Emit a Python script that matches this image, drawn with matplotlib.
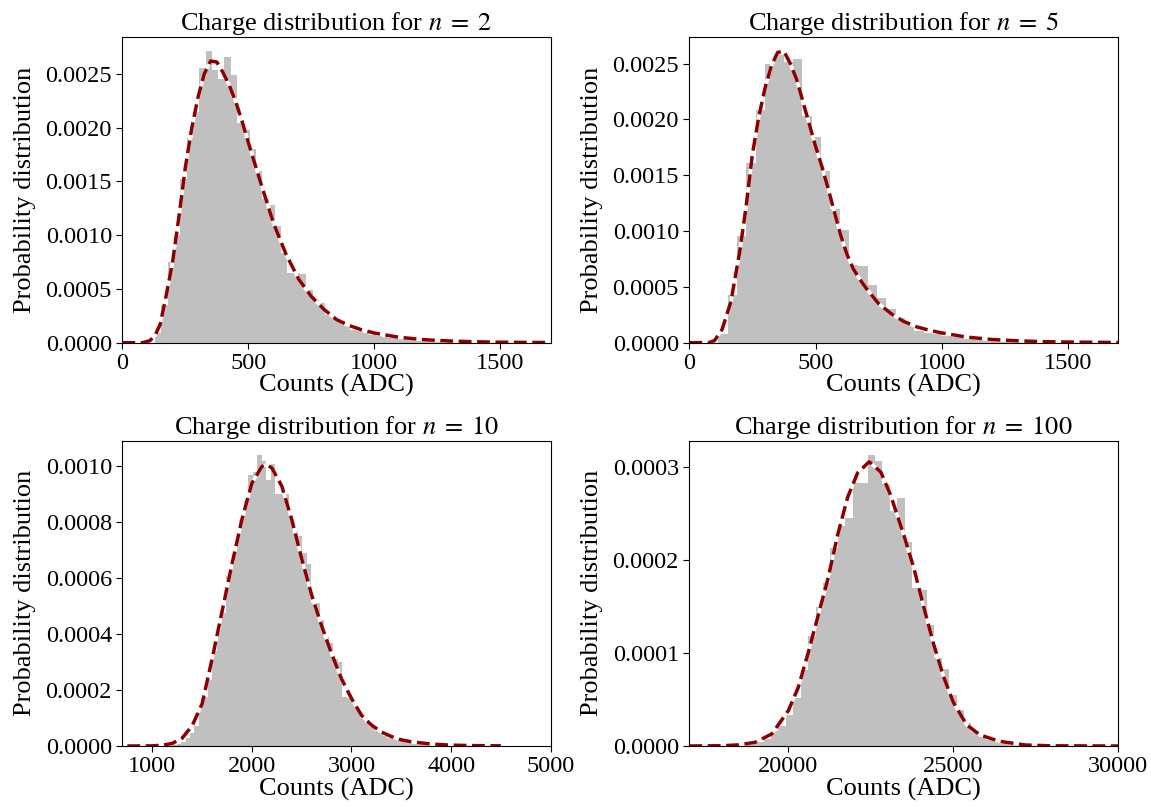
import numpy as np
import matplotlib
matplotlib.use("Agg")
import matplotlib.pyplot as plt
from matplotlib.ticker import MultipleLocator

plt.rcParams['font.family'] = ['Liberation Serif', 'DejaVu Serif']
plt.rcParams['mathtext.fontset'] = 'stix'

# ---- n = 2 ----
n2_start, n2_width = 130, 25
n2_heights = [0.00009, 0.00035, 0.00075, 0.00100, 0.00152, 0.00190, 0.00215, 0.00255,
              0.00271, 0.00254, 0.00245, 0.00266, 0.00249, 0.00204, 0.00198, 0.00180,
              0.00160, 0.00134, 0.00128, 0.00109, 0.00083, 0.00065, 0.00065, 0.00064,
              0.00049, 0.00040, 0.00037, 0.00026, 0.00023, 0.00019, 0.00016, 0.00012,
              0.00011, 0.000093, 0.000071, 0.000062, 0.000053, 0.000046, 0.00004, 0.000034,
              0.00003, 0.000025, 0.00002, 0.000017, 0.000014, 0.000011, 0.000009, 0.000008,
              0.000006, 0.000005, 0.000004, 0.000003, 0.000003, 0.000002, 0.000002, 0.000001]
n2_fit_x = [0, 80, 110, 130, 150, 175, 200, 225, 250, 275, 300, 325, 350, 375, 400, 425,
            450, 475, 500, 525, 550, 600, 650, 700, 750, 800, 850, 900, 950, 1000, 1100,
            1200, 1300, 1400, 1500, 1600, 1700]
n2_fit_y = [0, 0, 0.00002, 0.00007, 0.00017, 0.00045, 0.00076, 0.00118, 0.00163, 0.00199,
            0.00228, 0.00250, 0.00262, 0.00261, 0.00251, 0.00239, 0.00224, 0.00206, 0.00186,
            0.00167, 0.00148, 0.00111, 0.00082, 0.00059, 0.00043, 0.00031, 0.000215, 0.00016,
            0.00012, 0.00009, 0.00005, 0.000028, 0.000016, 0.000009, 0.000005, 0.000003, 0.000002]

# ---- n = 5 ----
n5_start, n5_width = 115, 37
n5_heights = [0.00008, 0.00043, 0.00096, 0.00161, 0.00208, 0.00250, 0.00258, 0.00251,
              0.00254, 0.00203, 0.00184, 0.00154, 0.00120, 0.00101, 0.00070, 0.00069,
              0.00052, 0.00040, 0.00030, 0.00022, 0.000164, 0.000107, 0.00009, 0.000075,
              0.00006, 0.00005, 0.00004, 0.000032, 0.000026, 0.00002, 0.000016, 0.000013,
              0.00001, 0.000008, 0.000006, 0.000005, 0.000004, 0.000003, 0.000002, 0.000002,
              0.000001]
n5_fit_x = [0, 80, 100, 130, 165, 200, 225, 250, 275, 300, 325, 350, 375, 400, 425, 450,
            475, 500, 525, 550, 575, 600, 625, 650, 675, 700, 750, 800, 850, 900, 950, 1000,
            1100, 1200, 1300, 1400, 1500, 1600, 1700]
n5_fit_y = [0, 0.000002, 0.00002, 0.00012, 0.00037, 0.00082, 0.00122, 0.00169, 0.00202,
            0.00228, 0.00248, 0.00260, 0.00261, 0.00250, 0.00236, 0.00216, 0.00196, 0.00176,
            0.00158, 0.00138, 0.00117, 0.00096, 0.00079, 0.00066, 0.00057, 0.00049, 0.00035,
            0.00026, 0.00019, 0.000143, 0.000112, 0.000088, 0.00005, 0.000029, 0.000017,
            0.00001, 0.000006, 0.000004, 0.000002]

# ---- n = 10 ----
n10_start, n10_width = 1199, 45
n10_heights = [0.000002, 0.000007, 0.000016, 0.00003, 0.000048, 0.00007, 0.000135, 0.000177,
               0.000236, 0.000338, 0.000415, 0.000475, 0.000608, 0.000654, 0.000737, 0.00081,
               0.000875, 0.00097, 0.00098, 0.00104, 0.00102, 0.00095, 0.00101, 0.00090,
               0.00090, 0.00090, 0.00082, 0.00077, 0.00075, 0.00069, 0.00065, 0.00051,
               0.00051, 0.00045, 0.00039, 0.00037, 0.00031, 0.00030, 0.000177, 0.00017,
               0.000158, 0.000129, 0.0001, 0.000081, 0.000069, 0.000055, 0.000045, 0.000037,
               0.00003, 0.000025, 0.000021, 0.000018, 0.000015, 0.000013, 0.000011, 0.000009,
               0.000008, 0.000007, 0.000006, 0.000005, 0.000004, 0.000004, 0.000003, 0.000003,
               0.000002, 0.000002, 0.000002, 0.000001, 0.000001, 0.000001, 0.000001, 0.000001]
n10_fit_x = [750, 1000, 1100, 1200, 1300, 1400, 1500, 1600, 1700, 1800, 1900, 2000, 2100,
             2150, 2200, 2300, 2400, 2500, 2600, 2700, 2800, 2900, 3000, 3100, 3200, 3300,
             3400, 3500, 3600, 3800, 4000, 4200, 4500]
n10_fit_y = [0, 0.0000005, 0.000003, 0.000009, 0.000028, 0.000072, 0.00015, 0.00031, 0.00048,
             0.00065, 0.00081, 0.00094, 0.00100, 0.001006, 0.000995, 0.00093, 0.00081, 0.00067,
             0.00054, 0.00043, 0.00033, 0.00024, 0.00017, 0.00011, 0.000075, 0.00005, 0.000034,
             0.000022, 0.000015, 0.000007, 0.000003, 0.0000015, 0.0000005]

# ---- n = 100 ----
n100_start, n100_width = 18350, 225
n100_heights = [0.0000005, 0.000001, 0.0000022, 0.000004, 0.000008, 0.000016, 0.000022,
                0.000033, 0.000052, 0.000082, 0.000118, 0.00015, 0.000175, 0.000213, 0.000237,
                0.000245, 0.000283, 0.000283, 0.000313, 0.000307, 0.000282, 0.000253, 0.000267,
                0.00022, 0.00017, 0.000168, 0.00013, 0.000095, 0.000083, 0.000055, 0.000039,
                0.0000245, 0.0000155, 0.00001, 0.000006, 0.000004, 0.0000025, 0.0000015, 0.000001]
n100_fit_x = [17000, 18000, 18500, 19000, 19500, 20000, 20300, 20600, 20900, 21200, 21500,
              21800, 22100, 22450, 22800, 23100, 23500, 23800, 24100, 24400, 24700, 25000,
              25400, 25800, 26400, 27200, 28000, 30000]
n100_fit_y = [0, 0.0000003, 0.0000012, 0.000004, 0.000013, 0.000038, 0.000063, 0.0001,
              0.00014, 0.00018, 0.000228, 0.000268, 0.000294, 0.000306, 0.000295, 0.00027,
              0.000227, 0.000192, 0.00015, 0.00011, 0.000075, 0.000047, 0.000023, 0.000012,
              0.000005, 0.000001, 0.0000002, 0]

panels = [
    (2, n2_start, n2_width, n2_heights, n2_fit_x, n2_fit_y, (0, 1700), 500, 0.0005),
    (5, n5_start, n5_width, n5_heights, n5_fit_x, n5_fit_y, (0, 1700), 500, 0.0005),
    (10, n10_start, n10_width, n10_heights, n10_fit_x, n10_fit_y, (700, 5000), 1000, 0.0002),
    (100, n100_start, n100_width, n100_heights, n100_fit_x, n100_fit_y, (17000, 30000), 5000, 0.0001),
]

rects = [
    [0.1063, 0.5753, 0.3722, 0.3792],
    [0.5989, 0.5753, 0.3727, 0.3792],
    [0.1063, 0.0756, 0.3722, 0.3783],
    [0.5989, 0.0756, 0.3727, 0.3783],
]

fig = plt.figure(figsize=(11.51, 8.07), dpi=100)

for rect, (n, start, width, heights, fx, fy, xlim, xstep, ystep) in zip(rects, panels):
    ax = fig.add_axes(rect)
    edges = start + width * np.arange(len(heights) + 1)
    ax.stairs(heights, edges, fill=True, color='silver', linewidth=0)
    # white underlay so the gaps of the dashed fit show white
    ax.plot(fx, fy, color='white', lw=2.5)
    ax.plot(fx, fy, '--', color='darkred', lw=2.5)
    ax.set_xlim(*xlim)
    ax.set_ylim(bottom=0)
    ax.xaxis.set_major_locator(MultipleLocator(xstep))
    ax.yaxis.set_major_locator(MultipleLocator(ystep))
    ax.yaxis.set_major_formatter(plt.FormatStrFormatter('%.4f'))
    ax.tick_params(labelsize=17.5, length=4)
    ax.set_title(r'Charge distribution for $n\;=\;%d$' % n, fontsize=19, pad=2)
    ax.set_xlabel('Counts (ADC)', fontsize=19, labelpad=0)
    ax.set_ylabel('Probability distribution', fontsize=19, labelpad=7)

fig.savefig('out.png', dpi=100)
